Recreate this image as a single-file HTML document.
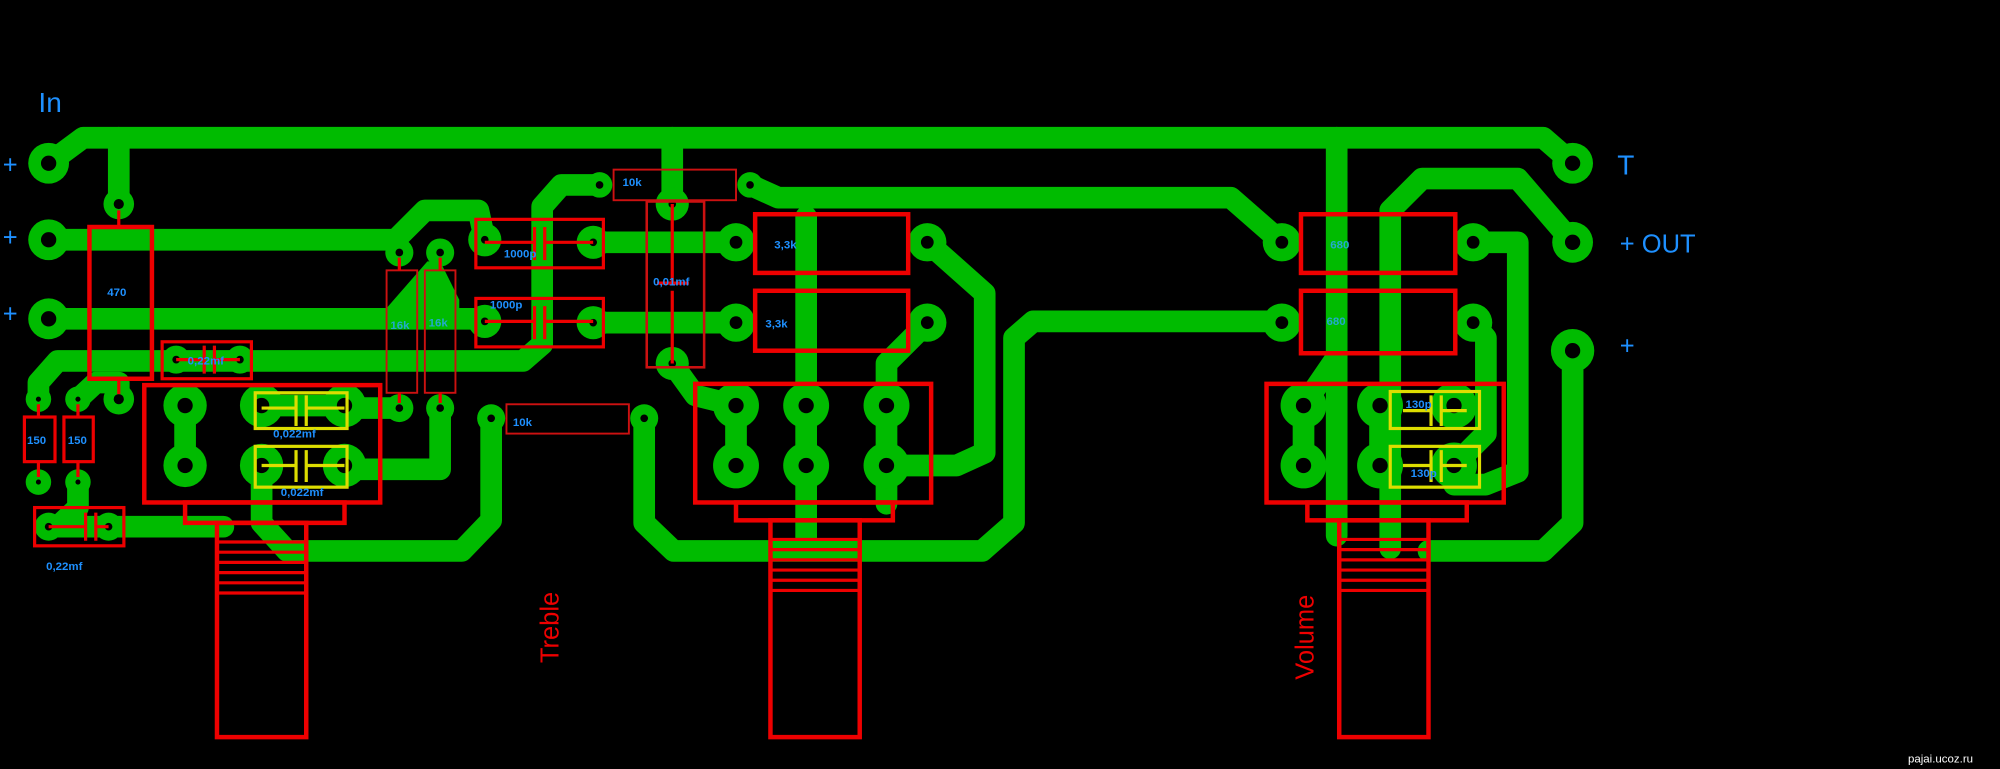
<!DOCTYPE html>
<html><head><meta charset="utf-8"><style>
html,body{margin:0;padding:0;background:#000;width:2000px;height:769px;overflow:hidden}
svg{display:block}
text{font-family:"Liberation Sans",sans-serif}
</style></head><body>
<svg width="2000" height="769" viewBox="0 0 1568 603" xmlns="http://www.w3.org/2000/svg">
<rect width="1568" height="603" fill="#000"/>
<g fill="none" stroke="#00bb00" stroke-width="17" stroke-linejoin="round" stroke-linecap="round">
<path d="M38 128 L65 108 L1210 108 L1233 128"/>
<path d="M93 108 V160"/><path d="M527 108 V160"/><path d="M1048 108 V420"/>
<path d="M38 188 H310 L333 165 H375 L380 188"/>
<path d="M38 250 H380"/>
<path d="M465 190 H577"/><path d="M465 253 H577"/>
<path d="M470 145 H440 L425 162 V270 L410 283 H45 L30 300 V313"/>
<path d="M313 198 L310 188"/>
<path d="M527 285 L545 310 L577 318"/>
<path d="M632 170 V430"/>
<path d="M727 253 L695 285 V395"/>
<path d="M727 190 L772 230 V355 L750 365 H695"/>
<path d="M588 145 L610 155 H965 L1005 190"/>
<path d="M505 328 V410 L528 432 H770 L795 410 V265 L810 252 H1005"/>
<path d="M385 328 V408 L362 432 H230"/>
<path d="M345 320 V368 H270"/>
<path d="M313 320 H270"/>
<path d="M38 413 H175"/>
<path d="M61 378 V398 L45 413"/>
<path d="M61 313 L75 300 H93 V313"/>
<path d="M145 318 V365"/><path d="M205 318 H270"/><path d="M205 365 V410 L225 432"/>
<path d="M577 318 V365"/>
<path d="M1155 190 H1190 V370 L1165 380 H1140"/>
<path d="M1233 190 L1190 140 H1115 L1090 165 V430"/>
<path d="M1233 275 V410 L1210 432 H1120"/>
<path d="M1155 253 L1165 265 V340 L1140 365"/>
<path d="M1022 318 V365"/><path d="M1082 318 V365"/>
<path d="M1048 280 L1022 318"/>
</g>
<polygon points="345,205 360,235 360,258 300,258 300,245 335,205" fill="#00bb00"/>
<g fill="#00bb00">
<circle cx="38" cy="128" r="16"/><circle cx="38" cy="188" r="16"/><circle cx="38" cy="250" r="16"/>
<circle cx="1233" cy="128" r="16"/><circle cx="1233" cy="190" r="16"/><circle cx="1233" cy="275" r="17"/>
<circle cx="93" cy="160" r="12"/><circle cx="93" cy="313" r="12"/>
<circle cx="138" cy="282" r="11"/><circle cx="188" cy="282" r="11"/>
<circle cx="30" cy="313" r="10"/><circle cx="30" cy="378" r="10"/><circle cx="61" cy="313" r="10"/><circle cx="61" cy="378" r="10"/>
<circle cx="38" cy="413" r="11"/><circle cx="85" cy="413" r="11"/>
<circle cx="145" cy="318" r="17"/><circle cx="145" cy="365" r="17"/><circle cx="205" cy="318" r="17"/><circle cx="270" cy="318" r="17"/><circle cx="205" cy="365" r="17"/><circle cx="270" cy="365" r="17"/>
<circle cx="313" cy="198" r="11"/><circle cx="345" cy="198" r="11"/><circle cx="313" cy="320" r="11"/><circle cx="345" cy="320" r="11"/>
<circle cx="385" cy="328" r="11"/><circle cx="505" cy="328" r="11"/>
<circle cx="380" cy="188" r="13"/><circle cx="465" cy="190" r="13"/><circle cx="380" cy="252" r="13"/><circle cx="465" cy="253" r="13"/>
<circle cx="470" cy="145" r="10"/><circle cx="588" cy="145" r="10"/>
<circle cx="527" cy="160" r="13"/><circle cx="527" cy="285" r="13"/>
<circle cx="577" cy="190" r="15"/><circle cx="727" cy="190" r="15"/><circle cx="577" cy="253" r="15"/><circle cx="727" cy="253" r="15"/>
<circle cx="577" cy="318" r="18"/><circle cx="632" cy="318" r="18"/><circle cx="695" cy="318" r="18"/><circle cx="577" cy="365" r="18"/><circle cx="632" cy="365" r="18"/><circle cx="695" cy="365" r="18"/>
<circle cx="1005" cy="190" r="15"/><circle cx="1155" cy="190" r="15"/><circle cx="1005" cy="253" r="15"/><circle cx="1155" cy="253" r="15"/>
<circle cx="1022" cy="318" r="18"/><circle cx="1082" cy="318" r="18"/><circle cx="1140" cy="318" r="18"/><circle cx="1022" cy="365" r="18"/><circle cx="1082" cy="365" r="18"/><circle cx="1140" cy="365" r="18"/>
</g>
<g fill="#000">
<circle cx="38" cy="128" r="6"/><circle cx="38" cy="188" r="6"/><circle cx="38" cy="250" r="6"/>
<circle cx="1233" cy="128" r="6"/><circle cx="1233" cy="190" r="6"/><circle cx="1233" cy="275" r="6"/>
<circle cx="93" cy="160" r="4"/><circle cx="93" cy="313" r="4"/><circle cx="138" cy="282" r="3"/><circle cx="188" cy="282" r="3"/>
<circle cx="30" cy="313" r="2"/><circle cx="30" cy="378" r="2"/><circle cx="61" cy="313" r="2"/><circle cx="61" cy="378" r="2"/>
<circle cx="38" cy="413" r="3"/><circle cx="85" cy="413" r="3"/>
<circle cx="145" cy="318" r="6"/><circle cx="145" cy="365" r="6"/><circle cx="205" cy="318" r="6"/><circle cx="270" cy="318" r="6"/><circle cx="205" cy="365" r="6"/><circle cx="270" cy="365" r="6"/>
<circle cx="313" cy="198" r="3"/><circle cx="345" cy="198" r="3"/><circle cx="313" cy="320" r="3"/><circle cx="345" cy="320" r="3"/>
<circle cx="385" cy="328" r="3"/><circle cx="505" cy="328" r="3"/>
<circle cx="380" cy="188" r="3"/><circle cx="465" cy="190" r="3"/><circle cx="380" cy="252" r="3"/><circle cx="465" cy="253" r="3"/>
<circle cx="470" cy="145" r="3"/><circle cx="588" cy="145" r="3"/><circle cx="527" cy="160" r="3"/><circle cx="527" cy="285" r="3"/>
<circle cx="577" cy="190" r="5"/><circle cx="727" cy="190" r="5"/><circle cx="577" cy="253" r="5"/><circle cx="727" cy="253" r="5"/>
<circle cx="577" cy="318" r="6"/><circle cx="632" cy="318" r="6"/><circle cx="695" cy="318" r="6"/><circle cx="577" cy="365" r="6"/><circle cx="632" cy="365" r="6"/><circle cx="695" cy="365" r="6"/>
<circle cx="1005" cy="190" r="5"/><circle cx="1155" cy="190" r="5"/><circle cx="1005" cy="253" r="5"/><circle cx="1155" cy="253" r="5"/>
<circle cx="1022" cy="318" r="6"/><circle cx="1082" cy="318" r="6"/><circle cx="1140" cy="318" r="6"/><circle cx="1022" cy="365" r="6"/><circle cx="1082" cy="365" r="6"/><circle cx="1140" cy="365" r="6"/>
</g>
<g fill="none" stroke="#ee0000" stroke-width="3.5">
<rect x="70" y="178" width="49" height="119"/>
<rect x="19" y="327" width="24" height="35" stroke-width="2.5"/><rect x="50" y="327" width="23" height="35" stroke-width="2.5"/>
<rect x="27" y="398" width="70" height="30" stroke-width="2.5"/>
<rect x="127" y="268" width="70" height="29" stroke-width="2.5"/>
<rect x="113" y="302" width="185" height="92"/><rect x="145" y="394" width="125" height="16"/>
<rect x="170" y="410" width="70" height="168"/>
<rect x="545" y="301" width="185" height="93"/><rect x="577" y="394" width="123" height="14"/>
<rect x="604" y="408" width="70" height="170"/>
<rect x="993" y="301" width="186" height="93"/><rect x="1025" y="394" width="125" height="14"/>
<rect x="1050" y="408" width="70" height="170"/>
<rect x="592" y="168" width="120" height="46"/><rect x="592" y="228" width="120" height="47"/>
<rect x="1020" y="168" width="121" height="46"/><rect x="1020" y="228" width="121" height="49"/>
<rect x="373" y="172" width="100" height="38" stroke-width="2.5"/><rect x="373" y="234" width="100" height="38" stroke-width="2.5"/>
</g>
<g fill="none" stroke="#cc1111" stroke-width="1.5">
<rect x="303" y="212" width="24" height="96"/><rect x="333" y="212" width="24" height="96"/>
<rect x="397" y="317" width="96" height="23"/>
<rect x="481" y="133" width="96" height="24"/>
<rect x="507" y="158" width="45" height="130" stroke-width="2"/>
</g>
<g stroke="#ee0000" stroke-width="2.5">
<path d="M170 425H240M170 433H240M170 441H240M170 449H240M170 457H240M170 465H240"/>
<path d="M604 423H674M604 431H674M604 439H674M604 447H674M604 455H674M604 463H674"/>
<path d="M1050 423H1120M1050 431H1120M1050 439H1120M1050 447H1120M1050 455H1120M1050 463H1120"/>
<path d="M38 413H67M75 413H85M67 402V424M75 402V424"/>
<path d="M138 282H160M168 282H188M160 271V293M168 271V293"/>
<path d="M380 190H419M427 190H465M419 178V204M427 178V204"/>
<path d="M380 252H419M427 252H465M419 240V266M427 240V266"/>
<path d="M527 160V222M527 228V285M515 222H540"/>
<path d="M93 165V178M93 297V309M30 317V327M30 362V374M61 317V327M61 362V374M313 202V212M345 202V212M313 308V316M345 308V316"/>
</g>
<g fill="none" stroke="#dddd00" stroke-width="2.5">
<rect x="200" y="308" width="72" height="28"/><rect x="200" y="350" width="72" height="32"/>
<rect x="1090" y="307" width="70" height="29"/><rect x="1090" y="350" width="70" height="32"/>
<path d="M205 320H232M240 320H270M232 310V334M240 310V334M205 365H232M240 365H270M232 353V378M240 353V378"/>
<path d="M1100 322H1122M1130 322H1150M1122 310V334M1130 310V334M1100 365H1122M1130 365H1150M1122 353V378M1130 353V378"/>
</g>
<g fill="#1e90ff" font-size="9" font-weight="bold">
<text x="84" y="232">470</text>
<text x="147" y="286">0,22mf</text>
<text x="21" y="348">150</text><text x="53" y="348">150</text>
<text x="36" y="447">0,22mf</text>
<text x="214" y="343">0,022mf</text><text x="220" y="389">0,022mf</text>
<text x="395" y="202">1000p</text><text x="384" y="242">1000p</text>
<text x="306" y="258" fill="#22aacc">16k</text><text x="336" y="256" fill="#22aacc">16k</text>
<text x="402" y="334">10k</text><text x="488" y="146">10k</text>
<text x="512" y="224">0,01mf</text>
<text x="607" y="195">3,3k</text><text x="600" y="257">3,3k</text>
<text x="1043" y="195" fill="#22aacc">680</text><text x="1040" y="255" fill="#22aacc">680</text>
<text x="1102" y="320">130p</text><text x="1106" y="374">130p</text>
</g>
<g fill="#1e90ff" font-size="20">
<text x="30" y="88" font-size="22">In</text>
<text x="2" y="136">+</text><text x="2" y="193">+</text><text x="2" y="253">+</text>
<text x="1268" y="137" font-size="22">T</text>
<text x="1270" y="198">+ OUT</text>
<text x="1270" y="278">+</text>
</g>
<text transform="translate(438,520) rotate(-90)" fill="#ee0000" font-size="20">Treble</text>
<text transform="translate(1030,533) rotate(-90)" fill="#ee0000" font-size="20">Volume</text>
<text x="1496" y="598" fill="#ffffff" font-size="9">pajai.ucoz.ru</text>
</svg>
</body></html>
